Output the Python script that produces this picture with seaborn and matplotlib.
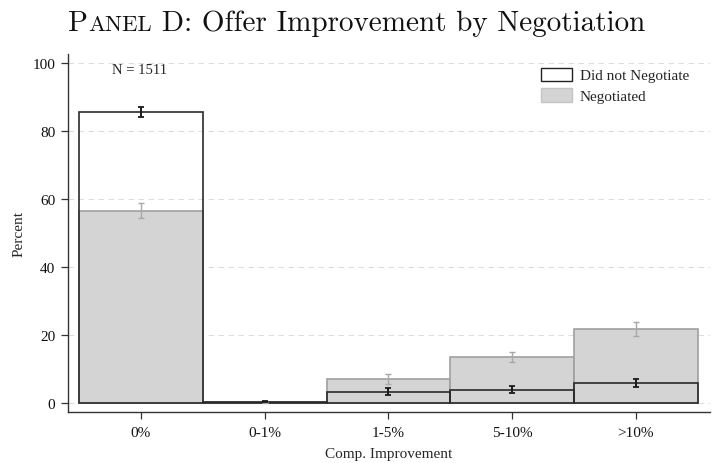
import matplotlib
matplotlib.use("Agg")
import matplotlib.pyplot as plt
import seaborn as sns
import pandas as pd
import numpy as np
from matplotlib.patches import Patch

categories = ["0%", "0-1%", "1-5%", "5-10%", ">10%"]
did_not = [85.7, 0.3, 3.3, 3.9, 5.8]
did_not_err = [1.5, 0.2, 1.0, 1.0, 1.2]
negotiated = [56.5, 0.1, 7.0, 13.5, 21.8]
negotiated_err = [2.2, 0.1, 1.4, 1.6, 2.0]
n_label = "N = 1511"

sns.set_theme(style="white")
plt.rcParams["font.family"] = ["Liberation Serif", "DejaVu Serif"]

fig = plt.figure(figsize=(7.13, 4.64), dpi=100)
ax = fig.add_axes([68/713, 1-413/464, (710-68)/713, (413-55)/464])

df = pd.DataFrame({"cat": categories, "dn": did_not, "ng": negotiated})

sns.barplot(data=df, x="cat", y="ng", ax=ax, width=1.0, color="#d4d4d4",
            edgecolor="#a0a0a0", linewidth=1.2, saturation=1, zorder=2)
sns.barplot(data=df, x="cat", y="dn", ax=ax, width=1.0, fill=False,
            edgecolor="#2a2a2a", linewidth=1.2, zorder=3)

x = np.arange(len(categories))
ax.errorbar(x, negotiated, yerr=negotiated_err, fmt="none", ecolor="#a8a8a8",
            elinewidth=1.0, capsize=2.5, capthick=1.0, zorder=4)
ax.errorbar(x, did_not, yerr=did_not_err, fmt="none", ecolor="#1a1a1a",
            elinewidth=1.4, capsize=2.5, capthick=1.3, zorder=5)

ax.set_xlim(-0.59, 4.6)
ax.set_ylim(-2.7, 102.7)
ax.set_yticks([0, 20, 40, 60, 80, 100])
for yv in [0, 20, 40, 60, 80, 100]:
    ax.axhline(yv, color="#dddddd", lw=0.8, ls=(0, (5, 4)), zorder=0)

for s in ["top", "right"]:
    ax.spines[s].set_visible(False)
for s in ["left", "bottom"]:
    ax.spines[s].set_color("#333333")
    ax.spines[s].set_linewidth(1.0)
ax.tick_params(axis="both", which="both", direction="out", length=5, width=0.9,
               color="#333333", labelsize=11, labelcolor="#111111", pad=4,
               left=True, bottom=True)
ax.tick_params(axis="x", pad=5)
ax.set_xlabel("Comp. Improvement", fontsize=11, labelpad=6)
ax.set_ylabel("Percent", fontsize=11, labelpad=5)
ax.grid(False)

ax.text(-0.015, 98.0, n_label, fontsize=10.5, ha="center", va="center", zorder=6)

handles = [Patch(facecolor="white", edgecolor="#222222", linewidth=1.0, label="Did not Negotiate"),
           Patch(facecolor="#d4d4d4", edgecolor="#c4c4c4", linewidth=1.0, label="Negotiated")]
ax.legend(handles=handles, loc="upper left", bbox_to_anchor=(541/713, 1-68.5/464),
          bbox_transform=fig.transFigure, frameon=False,
          fontsize=11, handlelength=2.0, handleheight=0.95, labelspacing=0.4,
          handletextpad=0.55, borderpad=0, borderaxespad=0)

# Title in small caps style (Computer Modern)
fig.canvas.draw()
r = fig.canvas.get_renderer()
ty = 1 - 31/464
fam = ["cmr10"]
base = 20.0
parts = [("P", 1.0), ("ANEL", 0.78), (" D: Offer Improvement by Negotiation", 1.0)]
texts = [fig.text(0, ty, s, fontsize=base*k, family=fam, ha="left", va="baseline",
                  color="#111111") for s, k in parts]
widths = [t.get_window_extent(renderer=r).width for t in texts]
total = sum(widths)
scale = 577 / total
for t, (s, k) in zip(texts, parts):
    t.set_fontsize(base*k*scale)
widths = [t.get_window_extent(renderer=r).width for t in texts]
cur = 356.5 - sum(widths)/2
for t, w in zip(texts, widths):
    t.set_x(cur/713)
    cur += w

fig.savefig("out.png", dpi=100)
